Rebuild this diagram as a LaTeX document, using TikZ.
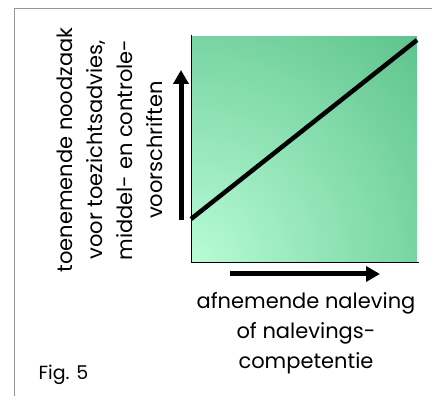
\documentclass[tikz,border=0pt]{standalone}
\usepackage{fontspec}
\setmainfont{Poppins}
\usetikzlibrary{arrows.meta,positioning}
\definecolor{mintlight}{RGB}{184,252,214}
\definecolor{greendark}{RGB}{56,172,110}
\definecolor{framegray}{RGB}{150,150,150}
\pgfdeclareradialshading{plotglow}{\pgfpoint{0bp}{0bp}}{color(0bp)=(mintlight); color(50bp)=(greendark)}

\begin{document}
\begin{tikzpicture}[x=1pt,y=1pt,
  axis label/.style={align=center, font=\fontsize{21}{30}\selectfont},
  fat arrow/.style={line width=5pt, -{Triangle[width=15pt,length=14pt]}}]
\useasboundingbox (0,0) rectangle (432,396);
\draw[framegray, line width=1pt] (14.5,0) -- (14.5,387) -- (432,387);

% plot area
\coordinate (origin) at (191,134);
\coordinate (topright) at (419,359);
\coordinate (ytop) at (191,361);
\coordinate (xend) at (419,134);
\begin{scope}
  \clip (origin) rectangle (topright);
  \shade[shading=plotglow] ([shift={(-226,-226)}]origin) rectangle ([shift={(226,226)}]origin);
\end{scope}
\draw[line width=0.8pt] (ytop) -- (origin) -- (xend);

% trend line
\coordinate (lineA) at (191,177);
\coordinate (lineB) at (417,356);
\draw[line width=4.5pt] (lineA) -- (lineB);

% arrows
\coordinate (upA) at (181,176);
\coordinate (upB) at (181,326);
\coordinate (rightA) at (230,122);
\coordinate (rightB) at (380,122);
\draw[fat arrow] (upA) -- (upB);
\draw[fat arrow] (rightA) -- (rightB);

% labels
\node[axis label, rotate=90] (ylabel) at (110,246)
  {toenemende noodzaak\\voor toezichtsadvies,\\middel- en controle-\\voorschriften};
\node[axis label] (xlabel) at (306,63)
  {afnemende naleving\\of nalevings-\\competentie};
\node[anchor=west, font=\fontsize{19}{22}\selectfont] (fig) at (35,21) {Fig. 5};
\end{tikzpicture}
\end{document}
